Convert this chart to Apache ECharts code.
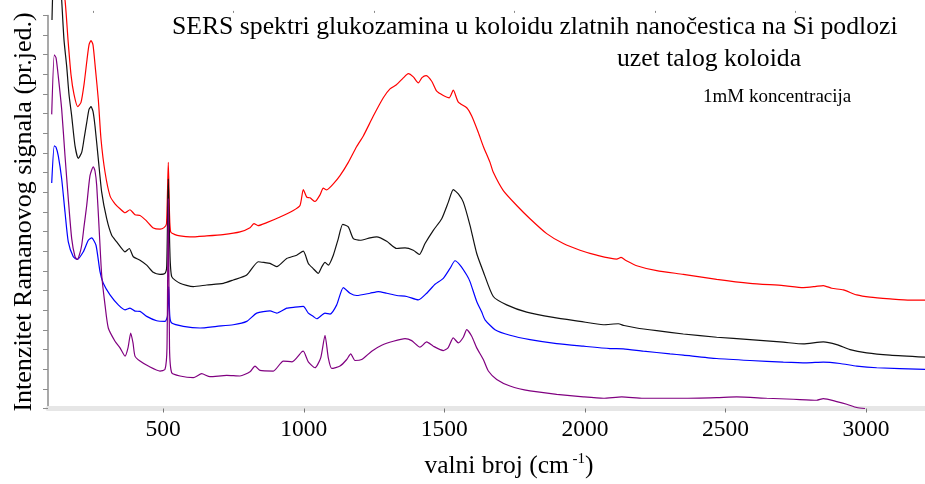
<!DOCTYPE html>
<html>
<head>
<meta charset="utf-8">
<script src="https://cdn.jsdelivr.net/npm/echarts@6/dist/echarts.min.js"></script>
<style>
  html, body { margin: 0; padding: 0; background: #fff; }
  #chart { width: 925px; height: 484px; }
</style>
</head>
<body>
<div id="chart"></div>
<script>
// Wavenumber axis (cm^-1) and labelled ticks
const xMin = 90;
const xMax = 3210;
const majorTicks = [500, 1000, 1500, 2000, 2500, 3000];
const minorTicks = [250, 750, 1250, 1750, 2250, 2750];

// Intensity axis (arbitrary units, unlabelled ticks)
const yMin = 0;
const yMax = 395.6;
const yStep = 19.78;

// Spectra: [wavenumber, intensity]
const redSpectrum = [
  [118.5, 471], [150.5, 411], [161.2, 371], [171.8, 336], [182.5, 316], [195.7, 303.7],
  [207.4, 308], [218.1, 326], [228.8, 351], [235.9, 366], [243, 370.3], [250.1, 366],
  [259, 341], [269, 311], [278.6, 271], [292.8, 238], [310.6, 214], [328.4, 206],
  [346.2, 201], [364, 197], [381.7, 200], [399.5, 195], [417.3, 194.3], [438.7, 189.3],
  [464.6, 181.7], [488.5, 180.5], [502.7, 182], [511.6, 186], [518, 247.7], [522.3, 196],
  [526.5, 177.7], [541.8, 175], [559.6, 173.7], [595.2, 172.7], [654.6, 173.7], [712.6, 175],
  [773.1, 177.7], [808.7, 182], [822.9, 186], [837.1, 184], [868.1, 187], [915.4, 192.7],
  [962.7, 199.3], [986.5, 204.3], [998.3, 220.3], [1010.4, 212.7], [1022.1, 212], [1039.9, 208.3],
  [1057.7, 215], [1069.4, 221.7], [1081.5, 220], [1105, 226], [1128.8, 234.3], [1158.4, 247.7],
  [1188.2, 263.7], [1211.8, 274.3], [1247.3, 294.3], [1282.9, 312.7], [1306.7, 321.7], [1330.6, 326],
  [1354, 332.7], [1371.8, 337], [1389.6, 333.7], [1407.4, 327.7], [1420.6, 333], [1434.8, 335],
  [1455.1, 329.3], [1472.9, 319.3], [1496.3, 315], [1517.7, 312.7], [1531.9, 320.3], [1549.7, 308.3],
  [1579.6, 302.7], [1597.4, 294.3], [1620.9, 277.7], [1638.7, 263.7], [1662.5, 247.7], [1674.2, 237.7],
  [1709.8, 219.3], [1757.5, 204.3], [1804.8, 191], [1864.2, 176], [1923.3, 166], [1982.7, 159.3],
  [2042.1, 154.3], [2113.3, 150.3], [2128.6, 152], [2146.4, 149], [2184.4, 143.7], [2255.6, 138.7],
  [2350.2, 135], [2469, 130], [2587.5, 126], [2706, 123.7], [2777.1, 121.7], [2818.8, 122.7],
  [2848.3, 123.7], [2878.2, 121], [2919.5, 119.3], [2967.2, 114.3], [3014.5, 112], [3085.6, 110.3],
  [3156.8, 109], [3210.2, 109]
];

const blackSpectrum = [
  [104.2, 391], [111.3, 451], [125.6, 471], [138.7, 411], [146.9, 371], [156.5, 344.3],
  [164.7, 316], [174.3, 294.3], [186.1, 264.3], [197.8, 251.7], [209.9, 257.7], [218.1, 271],
  [227.7, 287.7], [235.9, 301], [243, 303.7], [250.1, 299], [257.2, 284.3], [269, 251],
  [281, 217.7], [298.8, 191], [316.6, 174.3], [334.4, 167.7], [349.7, 162], [363.9, 157.7],
  [379.2, 161], [393.5, 152.7], [417.3, 149.3], [441.1, 144.3], [464.6, 137], [488.5, 135],
  [506.2, 136], [512.3, 143], [518, 231], [523.3, 161], [530.1, 132.7], [559.6, 126],
  [606.9, 122.7], [654.6, 124.3], [713.7, 126], [749.2, 129.3], [796.9, 134.3], [838.2, 147.7],
  [858.4, 147], [879.8, 146], [903.6, 142.7], [939.2, 151], [974.8, 154.3], [998.3, 158.3],
  [1016.1, 146], [1032.8, 141], [1051.6, 136], [1064.8, 143], [1075.5, 147], [1087.2, 144.3],
  [1105, 154.3], [1122.8, 171], [1138.5, 185.3], [1158.4, 182.7], [1176.2, 171], [1200, 169.3],
  [1235.6, 171.7], [1259.4, 172.7], [1295, 168.3], [1330.6, 161], [1360.1, 161.7], [1389.6, 159.3],
  [1411, 155], [1431.3, 166], [1460.8, 179.3], [1490.7, 191], [1514.2, 207.7], [1531.9, 220.3],
  [1549.7, 216], [1567.5, 207.7], [1591.3, 184.3], [1615.2, 156], [1638.7, 137.7], [1674.2, 112.7],
  [1721.8, 104.3], [1793, 97], [1887.6, 91.7], [1982.7, 87.7], [2065.6, 84.3], [2118.9, 85.3],
  [2139.2, 83.5], [2184.4, 81], [2255.6, 78.3], [2350.2, 75], [2469, 71.7], [2587.5, 69.3],
  [2706, 66.7], [2777.1, 65], [2848.3, 67], [2896, 64.3], [2943.3, 59.3], [3002.7, 56],
  [3085.6, 53.7], [3210.2, 51.7]
];

const blueSpectrum = [
  [103.2, 227], [112.4, 264.3], [118.5, 263], [126.6, 254.3], [138.7, 231], [150.5, 197.7],
  [162.2, 167.7], [180, 152.7], [194.2, 150], [215.6, 157.7], [233.4, 169.3], [245.5, 171.7],
  [260.8, 164.3], [275, 137.7], [286.7, 126], [310.6, 114.3], [340.1, 104.3], [364, 99.3],
  [381.7, 101], [399.5, 98], [417.3, 97.7], [441.1, 92.7], [476.7, 88.3], [506.2, 87.7],
  [515.1, 93], [519.4, 122.7], [523.3, 93], [530.1, 86], [571.4, 82.7], [630.8, 81],
  [690.2, 82.7], [749.2, 84.3], [796.9, 87.7], [832.5, 96], [879.8, 98.3], [903.6, 96],
  [939.2, 101], [968.8, 102], [998.3, 102.7], [1016.1, 96], [1033.9, 92.7], [1046, 90.3],
  [1075.5, 96], [1093.3, 95], [1117.1, 104.3], [1140.6, 121.7], [1164.4, 116], [1188.2, 113.7],
  [1235.6, 116], [1265.1, 117.7], [1295, 116], [1330.6, 113.7], [1366.2, 112.7], [1407.4, 109.3],
  [1437.3, 116], [1466.8, 125], [1496.3, 131], [1520.2, 141], [1538, 148.7], [1555.8, 144.3],
  [1579.6, 134.3], [1591.3, 127.7], [1615.2, 107.7], [1633, 97], [1644.7, 89.3], [1680.3, 79.3],
  [1733.6, 73.7], [1804.8, 69.3], [1899.8, 65.3], [1994.5, 62.7], [2089.4, 60.3], [2136.7, 60],
  [2207.9, 57.7], [2302.9, 55], [2350.2, 53.7], [2469, 50.3], [2587.5, 48.3], [2706, 46.7],
  [2789.2, 46], [2848.3, 46.7], [2907.7, 45.3], [2967.2, 42.7], [3038.3, 41], [3210.2, 39.3]
];

const purpleSpectrum = [
  [103.2, 296], [112.4, 356], [118.5, 353], [126.6, 334.3], [138.7, 301], [150.5, 254.3],
  [162.2, 211], [174.3, 171], [186.1, 152.7], [194.2, 150], [202.1, 155], [209.9, 164.3],
  [218.1, 183], [227.7, 204.3], [239.4, 234.3], [251.2, 243.3], [257.2, 239], [263.3, 224.3],
  [272.5, 177.7], [281, 134.3], [292.8, 104.3], [304.5, 81], [328.4, 67.7], [346.2, 61],
  [364, 52.7], [374.6, 61], [384.2, 76], [392.4, 66], [399.5, 52.7], [417.3, 47.7],
  [446.8, 42.7], [488.5, 37.7], [506.2, 39.3], [513.3, 61], [518, 211], [522.3, 61],
  [530.1, 36], [559.6, 32.7], [606.9, 31], [636.8, 35], [666.3, 32], [725.8, 33.3],
  [773.1, 32.7], [808.7, 37], [826.4, 42.7], [844.2, 38.3], [891.6, 37.7], [927.1, 47.7],
  [958.1, 47], [992.6, 57], [998.3, 57.7], [1016.1, 47], [1039.9, 41], [1060.2, 51],
  [1075.5, 73.7], [1087.2, 51], [1099.3, 40.3], [1128.8, 42.7], [1152.7, 49.3], [1166.9, 55],
  [1182.2, 48.3], [1206, 49.3], [1241.6, 57.7], [1277.2, 63.7], [1318.5, 67.7], [1360.1, 70.3],
  [1383.9, 68.3], [1413.5, 61.7], [1437.3, 67], [1460.8, 62.7], [1496.3, 58.3], [1513.1, 61],
  [1531.9, 71], [1549.7, 66], [1567.5, 71.7], [1579.6, 79.3], [1597.4, 72.7], [1615.2, 61],
  [1638.7, 49.3], [1656.5, 37.7], [1686.3, 29.3], [1733.6, 22.7], [1804.8, 17.7], [1899.8, 14.3],
  [1994.5, 11.7], [2065.6, 10.3], [2131.1, 11.7], [2207.9, 10.3], [2350.2, 10.3], [2469, 11],
  [2540.1, 11.7], [2646.8, 10.3], [2741.5, 9.3], [2824.7, 8.3], [2848.3, 10], [2896, 7],
  [2931.5, 4.3], [2967.2, 1], [2996.7, 0]
];

const serif = '"Liberation Serif", "Times New Roman", serif';

function spectrum(name, data, color) {
  return {
    name: name,
    type: 'line',
    data: data,
    showSymbol: false,
    smooth: 0.2,
    clip: false,
    lineStyle: { color: color, width: 1.2 },
    itemStyle: { color: color },
    silent: true
  };
}

function headline(text, left, top, size) {
  return {
    text: text,
    left: left,
    top: top,
    padding: 0,
    textStyle: { fontFamily: serif, fontSize: size, fontWeight: 'normal', color: '#000', lineHeight: size + 2 }
  };
}

const chart = echarts.init(document.getElementById('chart'), null, { renderer: 'canvas' });

chart.setOption({
  animation: false,
  backgroundColor: '#ffffff',
  title: [
    headline('SERS spektri glukozamina u koloidu zlatnih nanočestica na Si podlozi', 172, 13, 25.7),
    headline('uzet talog koloida', 617, 45, 25.7),
    headline('1mM koncentracija', 703, 87, 19)
  ],
  grid: { left: 48, right: 0, top: 15.4, bottom: 73, containLabel: false },
  xAxis: [
    {
      type: 'value',
      min: xMin, max: xMax,
      offset: 2.5,
      axisLine: { show: true, lineStyle: { color: '#e6e6e6', width: 5 } },
      axisTick: { show: true, customValues: majorTicks, length: 4, lineStyle: { color: '#777', width: 1 } },
      axisLabel: {
        show: true, customValues: majorTicks, margin: 7,
        formatter: function (v) { return String(v); },
        fontFamily: serif, fontSize: 23.5, color: '#000'
      },
      splitLine: { show: false },
      name: '{a|valni broj (cm}{s| -1}{a|)}',
      nameLocation: 'middle',
      nameGap: 41,
      nameTextStyle: {
        padding: [0, 0, 0, 45],
        rich: {
          a: { fontFamily: serif, fontSize: 25.5, color: '#000', lineHeight: 28 },
          s: { fontFamily: serif, fontSize: 15, color: '#000', verticalAlign: 'top', lineHeight: 28, padding: [0, 0, 11, 0] }
        }
      }
    },
    {
      type: 'value',
      min: xMin, max: xMax,
      offset: 2.5,
      axisLine: { show: false },
      axisTick: { show: true, customValues: minorTicks, length: 2, lineStyle: { color: '#888', width: 1 } },
      axisLabel: { show: false },
      splitLine: { show: false }
    }
  ],
  yAxis: {
    type: 'value',
    min: yMin, max: yMax, interval: yStep,
    axisLine: { show: true, lineStyle: { color: '#8c8c8c', width: 1.5 } },
    axisTick: { show: true, length: 5, lineStyle: { color: '#8c8c8c', width: 1 } },
    axisLabel: { show: false },
    splitLine: { show: false },
    name: 'Intenzitet Ramanovog signala (pr.jed.)',
    nameLocation: 'middle',
    nameGap: 11,
    nameTextStyle: { fontFamily: serif, fontSize: 26, color: '#000' }
  },
  series: [
    spectrum('spektar 1', redSpectrum, '#ff0000'),
    spectrum('spektar 2', blackSpectrum, '#111111'),
    spectrum('spektar 3', blueSpectrum, '#0000ff'),
    spectrum('spektar 4', purpleSpectrum, '#800080')
  ]
});
</script>
</body>
</html>
